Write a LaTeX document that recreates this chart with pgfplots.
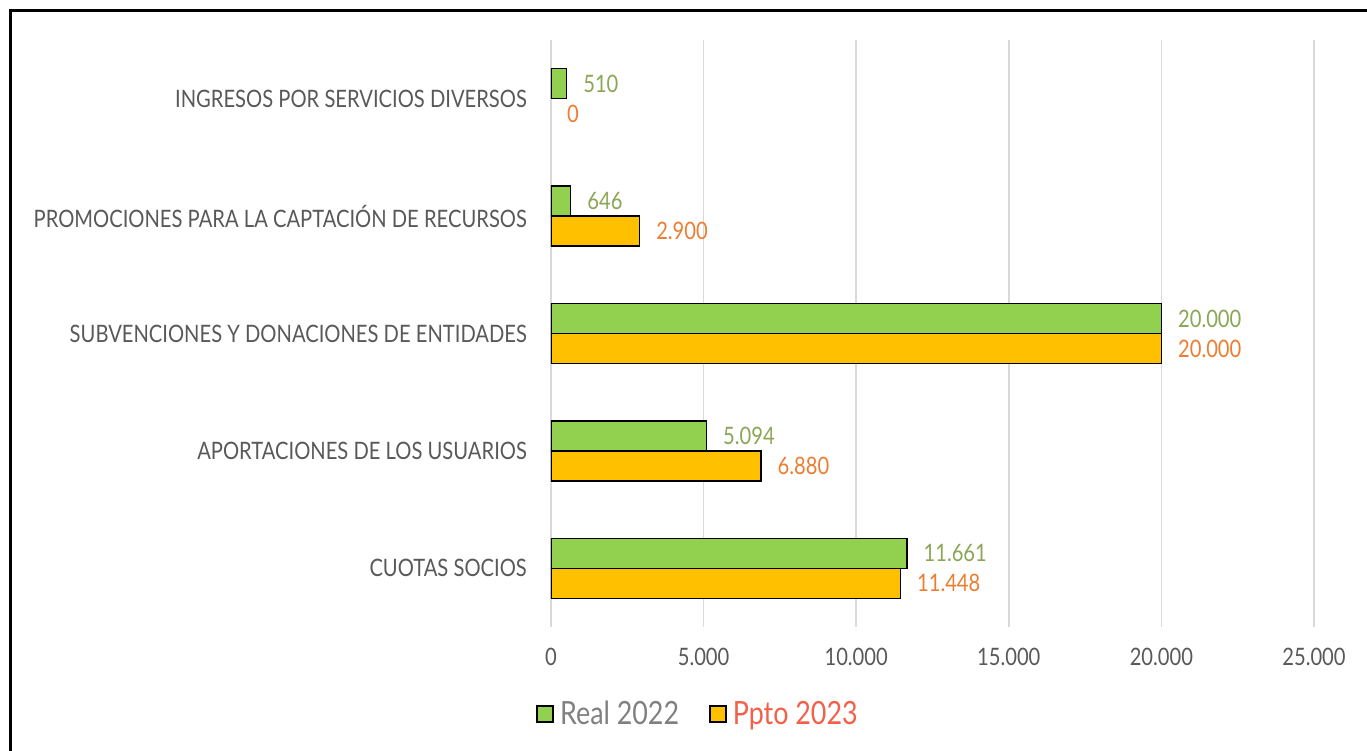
\documentclass[border=0pt]{standalone}
\usepackage{pgfplots}
\pgfplotsset{compat=1.18}
\usepackage{fontspec}
\setmainfont{Lato}[FakeStretch=0.84]
\definecolor{lblgray}{HTML}{595959}
\definecolor{gridgray}{HTML}{D9D9D9}
\definecolor{barG}{HTML}{92D050}
\definecolor{barO}{HTML}{FFC000}
\definecolor{txtG}{RGB}{138,166,86}
\definecolor{txtO}{HTML}{ED7D31}
\definecolor{legGray}{HTML}{808080}
\definecolor{legRed}{HTML}{F2604A}
\begin{document}
\begin{tikzpicture}
\useasboundingbox (-551bp,-124bp) rectangle (816bp,627bp);
\draw[line width=2.5bp, line cap=rect] (-540.5bp,-130bp) -- (-540.5bp,616.3bp) -- (830bp,616.3bp);
\begin{axis}[
  at={(0,0)}, anchor=south west,
  scale only axis, width=763bp, height=587bp,
  xmin=0, xmax=25000, ymin=0.5, ymax=5.5,
  xbar, bar width=30bp,
  axis line style={draw=none}, tick style={draw=none},
  major tick length=0pt,
  xmajorgrids, grid style={color=gridgray, line width=1.5bp},
  xtick={0,5000,10000,15000,20000,25000},
  scaled x ticks=false,
  ytick={1,2,3,4,5},
  yticklabels={CUOTAS SOCIOS, APORTACIONES DE LOS USUARIOS, SUBVENCIONES Y DONACIONES DE ENTIDADES, PROMOCIONES PARA LA CAPTACIÓN DE RECURSOS, INGRESOS POR SERVICIOS DIVERSOS},
  yticklabel style={font=\fontsize{24bp}{28bp}\selectfont, color=lblgray, inner sep=0pt, anchor=east, xshift=-24bp},
  xticklabel style={font=\fontsize{24bp}{28bp}\selectfont, color=lblgray, inner sep=0pt, anchor=north, yshift=-21bp},
  /pgf/number format/1000 sep={.},
  /pgf/number format/fixed,
  /pgf/number format/assume math mode=true,
  point meta=x,
  legend style={at={(axis description cs:0.1927,-0.148)}, anchor=center, draw=none, fill=none,
    legend columns=2, font=\fontsize{32bp}{36bp}\selectfont, inner sep=0pt,
    /tikz/every even column/.append style={column sep=28bp}},
  legend image code/.code={\draw[#1,/tikz/.cd,line width=1.5bp] (0bp,-8bp) rectangle (16bp,8bp); \path[draw=none,fill=none] (0bp,0bp) -- (21bp,0bp);},
]
\addplot[fill=barG, draw=black, line width=1.5bp, bar shift=15bp,
  nodes near coords,
  every node near coord/.append style={font=\fontsize{24bp}{28bp}\selectfont, color=txtG, anchor=west, inner sep=0pt, xshift=16bp}]
  coordinates {(11661,1) (5094,2) (20000,3) (646,4) (510,5)};
\addlegendentry{\textcolor{legGray}{Real 2022}}
\addplot[fill=barO, draw=black, line width=1.5bp, bar shift=-15bp,
  nodes near coords,
  every node near coord/.append style={font=\fontsize{24bp}{28bp}\selectfont, color=txtO, anchor=west, inner sep=0pt, xshift=16bp}]
  coordinates {(11448,1) (6880,2) (20000,3) (2900,4)};
\addlegendentry{\textcolor{legRed}{Ppto 2023}}
\addplot[fill=none, draw=none, bar shift=-15bp, forget plot,
  nodes near coords,
  every node near coord/.append style={font=\fontsize{24bp}{28bp}\selectfont, color=txtO, anchor=west, inner sep=0pt, xshift=16bp}]
  coordinates {(0,5)};
\end{axis}
\end{tikzpicture}
\end{document}
